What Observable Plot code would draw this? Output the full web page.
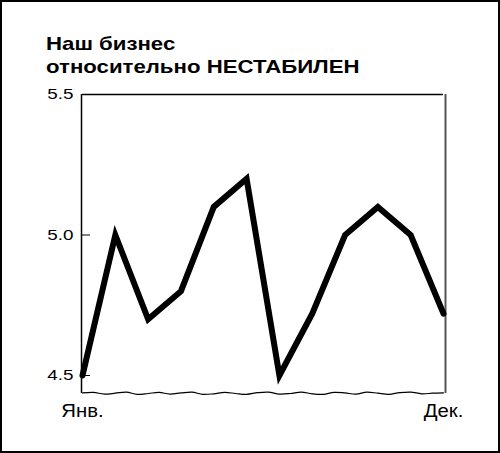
<!DOCTYPE html>
<html>
<head>
<meta charset="utf-8">
<script src="https://cdn.jsdelivr.net/npm/d3@7"></script>
<script src="https://cdn.jsdelivr.net/npm/@observablehq/plot@0.6"></script>
<style>
  html, body { margin: 0; padding: 0; background: #fff; }
  #wrap { position: relative; width: 500px; height: 453px; overflow: hidden; background: #fff; }
  #border { position: absolute; left: 0; top: 0; width: 500px; height: 453px; box-sizing: border-box; border: 2px solid #000; pointer-events: none; }
  #title { box-sizing: border-box; height: 82px; padding: 32px 0 0 46px; font-family: "Liberation Sans", Arial, sans-serif; font-weight: bold; font-size: 18.5px; line-height: 23px; color: #000; }
  #title span { display: inline-block; transform: scaleX(1.2); transform-origin: 0 0; white-space: nowrap; }
  svg { display: block; }
  #chart g.ylab text { font-family: "Liberation Sans", Arial, sans-serif !important; font-size: 14.5px !important; }
  #chart g.xlab text { font-family: "Liberation Sans", Arial, sans-serif !important; font-size: 18px !important; }
</style>
</head>
<body>
<div id="wrap">
  <div id="title"><span>Наш бизнес</span><br><span>относительно НЕСТАБИЛЕН</span></div>
  <div id="chart"></div>
  <div id="border"></div>
</div>
<script>
const months = ["Янв.", "Фев.", "Мар.", "Апр.", "Май", "Июн.", "Июл.", "Авг.", "Сен.", "Окт.", "Ноя.", "Дек."];
const values = [4.5, 5.0, 4.7, 4.8, 5.1, 5.2, 4.5, 4.72, 5.0, 5.1, 5.0, 4.72];
const yTicks = [4.5, 5.0, 5.5];
const yTickMarks = [4.5, 5.0];
const xTickIndex = [0, 11];
// hand-drawn axis-break wave along the cut bottom edge (value units)
const breakWave = [4.438, 4.440, 4.434, 4.437, 4.441, 4.433, 4.436, 4.440, 4.434, 4.438, 4.441, 4.433,
                   4.435, 4.440, 4.436, 4.433, 4.439, 4.441, 4.434, 4.436, 4.441, 4.435, 4.433, 4.440,
                   4.438, 4.434, 4.441, 4.437, 4.433, 4.439, 4.441, 4.435, 4.437, 4.438];

const data = months.map((m, i) => ({i, m, v: values[i]}));
const wave = breakWave.map((v, k) => ({x: k * 11 / (breakWave.length - 1), v}));

const W = 500, H = 371, ML = 82, MR = 57, MT = 12, MB = 60;
const plotW = W - ML - MR;

const chart = Plot.plot({
  width: W,
  height: H,
  marginLeft: ML,
  marginRight: MR,
  marginTop: MT,
  marginBottom: MB,
  style: {fontFamily: "'Liberation Sans', Arial, sans-serif", color: "#000", background: "#fff", overflow: "visible"},
  x: {domain: [0, 11], axis: null},
  y: {domain: [4.436, 5.5], axis: null},
  marks: [
    Plot.ruleX([0], {stroke: "#000", strokeWidth: 1.5, dx: -1}),
    Plot.ruleX([11], {stroke: "#555", strokeWidth: 2, dx: 2}),
    Plot.ruleY([5.5], {stroke: "#000", strokeWidth: 1.5}),
    Plot.ruleY(yTickMarks, {stroke: "#000", strokeWidth: 1, insetRight: plotW - 8}),
    Plot.line(wave, {x: "x", y: "v", stroke: "#000", strokeWidth: 1.2, curve: "catmull-rom"}),
    Plot.line(data, {x: "i", y: "v", stroke: "#000", strokeWidth: 6, strokeLinejoin: "miter", strokeMiterlimit: 10}),
    Plot.axisY(yTicks, {anchor: "left", tickSize: 0, tickPadding: 9, tickFormat: d3.format(".1f"), label: null}),
    Plot.axisX(xTickIndex, {anchor: "bottom", tickSize: 0, tickPadding: 11, tickFormat: i => months[i], label: null})
  ]
});
const s = d3.select(chart);
function stretch(sel, k) {
  sel.selectAll("text").each(function() {
    const t = d3.select(this);
    const tr = t.attr("transform");
    if (tr) {
      t.attr("transform", tr + ` scale(${k},1)`);
    } else {
      const x = +t.attr("x") || 0, y = +t.attr("y") || 0;
      t.attr("x", null).attr("y", null).attr("transform", `translate(${x},${y}) scale(${k},1)`);
    }
  });
}
const yl = s.selectAll('g[aria-label="y-axis tick label"]').classed("ylab", true);
const xl = s.selectAll('g[aria-label="x-axis tick label"]').classed("xlab", true);
stretch(yl, 1.3);
stretch(xl, 1.13);
document.getElementById("chart").appendChild(chart);
</script>
</body>
</html>
